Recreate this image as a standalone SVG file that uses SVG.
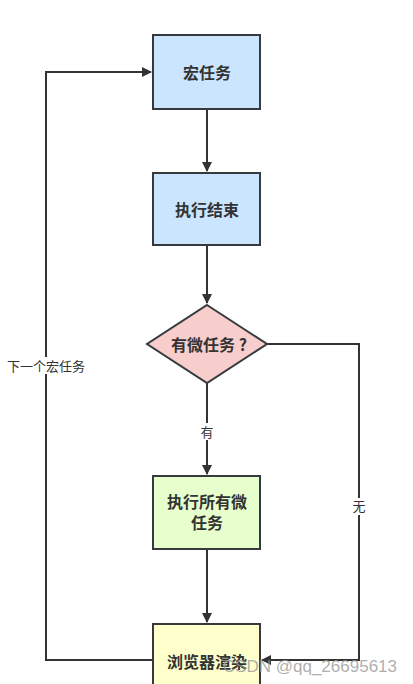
<svg xmlns="http://www.w3.org/2000/svg" width="413" height="684" viewBox="0 0 413 684">
<style>
.n{stroke:#36393d;stroke-width:2}
.t{font-family:"Noto Sans CJK SC","Liberation Sans",sans-serif;font-size:16px;font-weight:bold;fill:#333;text-anchor:middle}
.l{font-family:"Noto Sans CJK SC","Liberation Sans",sans-serif;font-size:13px;fill:#333;text-anchor:middle}
.c{fill:none;stroke:#333;stroke-width:2}
</style>
<defs>
<marker id="a" viewBox="0 0 10 10" refX="9" refY="5" markerWidth="5" markerHeight="5" orient="auto" markerUnits="strokeWidth">
<path d="M0,0 L10,5 L0,10 Z" fill="#333"/>
</marker>
</defs>
<rect width="413" height="684" fill="#fff"/>
<g id="connectors">
<path class="c" d="M207,109 V171" marker-end="url(#a)"/>
<path class="c" d="M207,245 V303" marker-end="url(#a)"/>
<path class="c" d="M207,383 V474" marker-end="url(#a)"/>
<path class="c" d="M207,549 V622" marker-end="url(#a)"/>
<path class="c" d="M267,344 H359 V660 H262" marker-end="url(#a)"/>
<path class="c" d="M153,660 H46 V72 H151" marker-end="url(#a)"/>
<rect x="197" y="423" width="20" height="17" fill="#fff"/>
<text class="l" x="207" y="437">有</text>
<rect x="350" y="498" width="18" height="17" fill="#fff"/>
<text class="l" x="359" y="511">无</text>
<rect x="7" y="357" width="78" height="17" fill="#fff"/>
<text class="l" x="46" y="371">下一个宏任务</text>
</g>
<g id="n1"><rect class="n" x="153" y="35" width="107" height="74" fill="#cce5ff"/><text class="t" x="207" y="79">宏任务</text></g>
<g id="n2"><rect class="n" x="153" y="173" width="107" height="72" fill="#cce5ff"/><text class="t" x="207" y="216">执行结束</text></g>
<g id="n3"><polygon class="n" points="207,305 267,344 207,383 147,344" fill="#f8cecc"/><text class="t" x="209" y="351">有微任务 ?</text></g>
<g id="n4"><rect class="n" x="153" y="476" width="107" height="73" fill="#e6ffcc"/><text class="t" x="207" y="508">执行所有微<tspan x="207" dy="21">任务</tspan></text></g>
<g id="n5"><rect class="n" x="153" y="624" width="107" height="80" fill="#ffffcc"/><text class="t" x="207" y="668">浏览器渲染</text></g>
<text x="397" y="672" font-family="Liberation Sans,sans-serif" font-size="17" fill="#999" fill-opacity="0.8" text-anchor="end">CSDN @qq_26695613</text>
</svg>
